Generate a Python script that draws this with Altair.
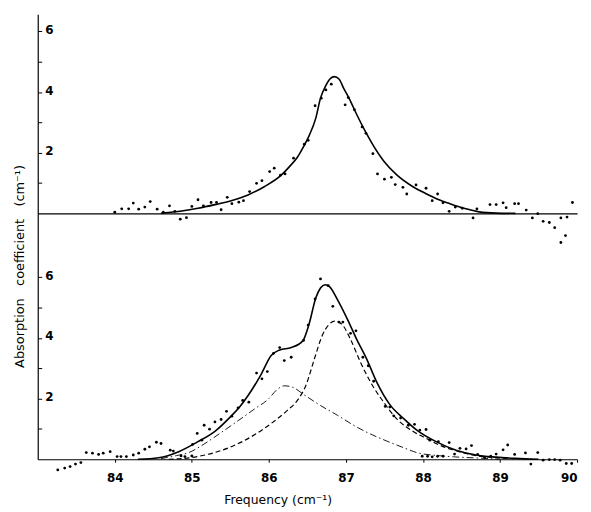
import altair as alt
import pandas as pd

# ---------------- data ----------------
top_freq = [84.00, 84.09, 84.18, 84.24, 84.31, 84.39, 84.46, 84.55, 84.63, 84.71,
            84.78, 84.85, 84.93, 85.00, 85.08, 85.15, 85.25, 85.32, 85.38, 85.46,
            85.52, 85.61, 85.67, 85.75, 85.84, 85.91, 86.01, 86.07, 86.15, 86.21,
            86.32, 86.46, 86.51, 86.60, 86.68, 86.74, 86.81, 86.99, 87.03, 87.11,
            87.21, 87.26, 87.35, 87.41, 87.50, 87.59, 87.64, 87.74, 87.79, 87.91,
            88.04, 88.12, 88.19, 88.26, 88.34, 88.42, 88.51, 88.65, 88.70, 88.87,
            88.95, 89.04, 89.08, 89.19, 89.24, 89.34, 89.42, 89.49, 89.56, 89.64,
            89.71, 89.79, 89.79, 89.85, 89.87, 89.94]
top_abs = [0.04, 0.15, 0.15, 0.34, 0.14, 0.21, 0.39, 0.14, 0.04, 0.25,
           0.07, -0.19, -0.14, 0.23, 0.45, 0.25, 0.36, 0.36, 0.12, 0.53,
           0.32, 0.37, 0.42, 0.72, 0.99, 1.08, 1.38, 1.49, 1.26, 1.30,
           1.82, 2.28, 2.41, 3.55, 3.80, 4.07, 4.26, 3.58, 3.82, 3.42,
           2.85, 2.64, 1.97, 1.30, 1.13, 1.19, 0.95, 0.86, 0.64, 0.94,
           0.83, 0.42, 0.64, 0.35, 0.07, 0.21, 0.17, -0.15, 0.15, 0.29,
           0.29, 0.35, 0.19, 0.32, 0.32, 0.11, -0.15, -0.01, -0.26, -0.30,
           -0.47, -0.15, -0.96, -0.73, -0.12, 0.36]

top_fit_freq = [84.60, 84.66, 84.87, 85.08, 85.30, 85.51, 85.73, 85.94, 86.16, 86.27,
                86.37, 86.45, 86.52, 86.61, 86.67, 86.74, 86.80, 86.85, 86.91, 86.97,
                87.04, 87.14, 87.25, 87.36, 87.49, 87.66, 87.87, 88.04, 88.20, 88.35,
                88.56, 88.73, 88.95, 89.20]
top_fit_abs = [0.00, 0.02, 0.08, 0.17, 0.29, 0.42, 0.61, 0.88, 1.26, 1.55,
               1.85, 2.20, 2.55, 3.15, 3.80, 4.22, 4.45, 4.51, 4.43, 4.13,
               3.80, 3.26, 2.71, 2.22, 1.73, 1.27, 0.88, 0.65, 0.46, 0.32,
               0.15, 0.05, 0.01, 0.00]

bot_freq = [83.26, 83.35, 83.42, 83.49, 83.56, 83.63, 83.71, 83.79, 83.85, 83.94,
            84.03, 84.08, 84.15, 84.24, 84.31, 84.39, 84.45, 84.54, 84.60, 84.72,
            84.76, 84.86, 84.91, 85.00, 85.01, 85.07, 85.13, 85.16, 85.23, 85.30,
            85.38, 85.45, 85.52, 85.60, 85.66, 85.74, 85.84, 85.91, 85.98, 86.06,
            86.14, 86.20, 86.29, 86.45, 86.51, 86.60, 86.67, 86.77, 86.83, 86.91,
            86.96, 87.06, 87.13, 87.22, 87.29, 87.36, 87.51, 87.57, 87.62, 87.71,
            87.81, 87.89, 87.96, 87.99, 88.04, 88.06, 88.09, 88.12, 88.19, 88.20,
            88.26, 88.34, 88.41, 88.48, 88.56, 88.63, 88.71, 88.80, 88.88, 88.95,
            89.04, 89.10, 89.19, 89.33, 89.40, 89.49, 89.56, 89.64, 89.71, 89.78,
            89.86, 89.93]
bot_abs = [-0.35, -0.29, -0.24, -0.16, -0.11, 0.22, 0.20, 0.16, 0.20, 0.25,
           0.09, 0.09, 0.09, 0.14, 0.20, 0.33, 0.41, 0.56, 0.52, 0.30,
           0.27, 0.11, 0.09, 0.11, 0.49, 0.85, 0.63, 1.12, 0.99, 1.23,
           1.31, 1.58, 1.42, 1.69, 1.94, 1.88, 2.84, 2.65, 2.89, 3.49,
           3.68, 3.25, 3.36, 3.92, 4.42, 5.28, 5.94, 5.72, 5.04, 4.52,
           4.52, 4.15, 4.23, 3.36, 3.08, 2.57, 1.74, 1.72, 1.43, 1.36,
           1.12, 1.15, 0.96, 0.10, 0.98, 0.10, 0.63, 0.08, 0.10, 0.58,
           0.10, 0.55, 0.17, 0.36, 0.34, 0.45, 0.16, 0.05, 0.10, 0.17,
           0.31, 0.47, 0.16, 0.21, -0.16, 0.22, -0.03, -0.01, -0.01, -0.03,
           -0.14, -0.14]

bot_fit_freq = [84.30, 84.57, 84.83, 85.08, 85.30, 85.51, 85.62, 85.73, 85.90, 86.03,
                86.14, 86.29, 86.44, 86.52, 86.61, 86.67, 86.73, 86.79, 86.89, 87.02,
                87.14, 87.27, 87.40, 87.57, 87.75, 87.92, 88.17, 88.43, 88.69, 88.95,
                89.20, 89.50]
bot_fit_abs = [0.00, 0.05, 0.25, 0.58, 0.92, 1.42, 1.72, 2.10, 2.80, 3.42,
               3.60, 3.68, 3.90, 4.44, 5.32, 5.64, 5.75, 5.68, 5.26, 4.61,
               3.95, 3.30, 2.54, 1.80, 1.34, 0.96, 0.58, 0.30, 0.14, 0.07,
               0.03, 0.00]

comp1_freq = [84.60, 84.80, 84.96, 85.17, 85.38, 85.60, 85.81, 86.00, 86.10, 86.20,
              86.30, 86.46, 86.67, 86.89, 87.10, 87.32, 87.53, 87.75, 87.92, 88.20,
              88.40, 88.80, 89.00]
comp1_abs = [0.02, 0.12, 0.22, 0.52, 0.88, 1.27, 1.65, 2.00, 2.28, 2.42,
             2.38, 2.12, 1.77, 1.45, 1.12, 0.83, 0.60, 0.38, 0.22, 0.12,
             0.08, 0.03, 0.00]

comp2_freq = [84.70, 84.91, 85.17, 85.51, 85.77, 86.03, 86.24, 86.37, 86.48, 86.59,
              86.69, 86.78, 86.86, 86.95, 87.06, 87.19, 87.32, 87.49, 87.66, 87.87,
              88.09, 88.17, 88.43, 88.69, 88.95, 89.20]
comp2_abs = [0.00, 0.03, 0.14, 0.41, 0.74, 1.18, 1.61, 1.94, 2.43, 3.30,
             4.06, 4.44, 4.55, 4.44, 3.95, 3.19, 2.54, 1.88, 1.33, 0.92,
             0.63, 0.52, 0.28, 0.12, 0.05, 0.02]

y_ticks = [1, 2, 3, 4, 5, 6]
x_ticks = [84, 85, 86, 87, 88, 89, 90]

# ---------------- tables ----------------
top_pts = pd.DataFrame({"f": top_freq, "a": top_abs})
top_fit = pd.DataFrame({"f": top_fit_freq, "a": top_fit_abs})
bot_pts = pd.DataFrame({"f": bot_freq, "a": bot_abs})
bot_fit = pd.DataFrame({"f": bot_fit_freq, "a": bot_fit_abs})
comp1 = pd.DataFrame({"f": comp1_freq, "a": comp1_abs})
comp2 = pd.DataFrame({"f": comp2_freq, "a": comp2_abs})

W = 544
H_TOP = 201
H_BOT = 248
FONT = "DejaVu Sans"
NB = "\u00a0\u00a0\u00a0"

xscale = alt.Scale(domain=[83, 90], nice=False, zero=False)
ytop_scale = alt.Scale(domain=[0, 6.57], nice=False, zero=False)
ybot_scale = alt.Scale(domain=[0, 8.1], nice=False, zero=False)

def yaxis(title=None):
    args = dict(
        orient="right", offset=-W, values=y_ticks,
        labelExpr="datum.value % 2 == 0 ? datum.label : ''",
        tickSize=4, tickColor="black", tickWidth=1,
        domainColor="black", domainWidth=1.2,
        labelFont=FONT, labelFontSize=12, labelFontWeight="bold",
        labelColor="black", labelPadding=3, labelOffset=-2,
        grid=False,
    )
    if title is not None:
        args.update(title=title, titleAngle=270, titleX=-18, titleY=53,
                    titleAlign="center", titleBaseline="middle",
                    titleFont=FONT, titleFontSize=13, titleFontWeight="normal",
                    titleColor="black")
    else:
        args.update(title=None)
    return alt.Axis(**args)

# ---------- top panel ----------
top_x_axis = alt.Axis(labels=False, ticks=False, domain=True, domainColor="black",
                      domainWidth=1.2, grid=False, title=None)

top_points = alt.Chart(top_pts).mark_circle(size=8, color="black", opacity=1).encode(
    x=alt.X("f:Q", scale=xscale, axis=top_x_axis),
    y=alt.Y("a:Q", scale=ytop_scale, axis=yaxis()),
)
top_line = alt.Chart(top_fit).mark_line(color="black", strokeWidth=1.6,
                                        interpolate="monotone").encode(
    x=alt.X("f:Q", scale=xscale, axis=top_x_axis),
    y=alt.Y("a:Q", scale=ytop_scale, axis=yaxis()),
)
top = alt.layer(top_points, top_line).properties(width=W, height=H_TOP)

# ---------- bottom panel ----------
bot_x_axis = alt.Axis(values=x_ticks, format="d", tickSize=3, domain=True,
                      tickColor="black",
                      domainColor="black", domainWidth=1.2, grid=False,
                      labelFont=FONT, labelFontSize=12, labelFontWeight="bold",
                      labelColor="black", labelPadding=10,
                      title="Frequency (cm\u207b\u00b9)", titleFont=FONT,
                      titleFontSize=12.5, titleFontWeight="normal", titleColor="black",
                      titleX=242, titleY=45, titleBaseline="alphabetic",
                      titleAlign="center")
bot_y_axis = yaxis(title="Absorption" + NB + "coefficient" + NB + "(cm\u207b\u00b9)")

def bx():
    return alt.X("f:Q", scale=xscale, axis=bot_x_axis)

def by():
    return alt.Y("a:Q", scale=ybot_scale, axis=bot_y_axis)

bot_points = alt.Chart(bot_pts).mark_circle(size=8, color="black", opacity=1).encode(
    x=bx(), y=by())
bot_line = alt.Chart(bot_fit).mark_line(color="black", strokeWidth=1.6,
                                        interpolate="monotone").encode(x=bx(), y=by())
c1_line = alt.Chart(comp1).mark_line(color="black", strokeWidth=0.9,
                                     strokeDash=[7, 3, 1.5, 3],
                                     interpolate="monotone").encode(x=bx(), y=by())
c2_line = alt.Chart(comp2).mark_line(color="black", strokeWidth=1.2,
                                     strokeDash=[5, 3],
                                     interpolate="monotone").encode(x=bx(), y=by())

bottom = alt.layer(bot_points, bot_line, c1_line, c2_line).properties(
    width=W, height=H_BOT)

chart = alt.vconcat(top, bottom, spacing=0, bounds="flush").properties(
    padding={"left": 5, "top": 4, "right": 5, "bottom": 2},
    background="white",
).configure_view(stroke=None).configure_concat(spacing=0)

chart.save("out.html", embed_options={"renderer": "svg", "actions": False})
